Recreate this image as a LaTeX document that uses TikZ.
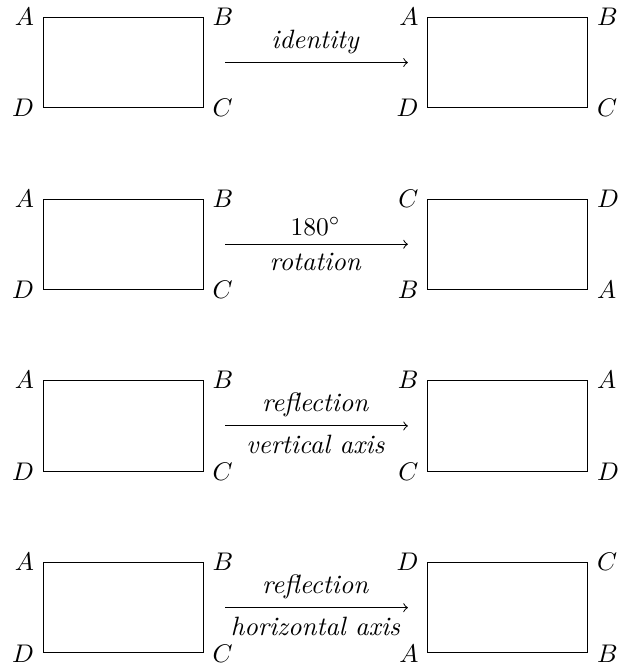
\documentclass[tikz,border=0pt]{standalone}
\usepackage{amsmath, amssymb}
\usetikzlibrary{positioning}
\begin{document}
\begin{tikzpicture}[>=to, every node/.style={font=\fontsize{10.4pt}{12.5pt}\selectfont},
  box/.style={draw, minimum width=2.2cm, minimum height=1.247cm, inner sep=0pt},
  tl/.style={label={[anchor=east]north west:$#1$}},
  tr/.style={label={[anchor=west]north east:$#1$}},
  br/.style={label={[anchor=west]south east:$#1$}},
  bl/.style={label={[anchor=east]south west:$#1$}},
  map/.style={->, shorten <=0.3cm, shorten >=0.27cm}]
  \useasboundingbox (0,0) rectangle (8.54,-9.14);
  % identity
  \node[box, tl=A, tr=B, br=C, bl=D] (l1) at (1.70,-0.862) {};
  \node[box, tl=A, tr=B, br=C, bl=D] (r1) at (7.00,-0.862) {};
  \draw[map] (l1) -- node[above] {\textit{identity}} (r1);
  % rotation
  \node[box, tl=A, tr=B, br=C, bl=D] (l2) at (1.70,-3.367) {};
  \node[box, tl=C, tr=D, br=A, bl=B] (r2) at (7.00,-3.367) {};
  \draw[map] (l2) -- node[above] {$180^\circ$} node[below] {\textit{rotation}} (r2);
  % vertical axis
  \node[box, tl=A, tr=B, br=C, bl=D] (l3) at (1.70,-5.872) {};
  \node[box, tl=B, tr=A, br=D, bl=C] (r3) at (7.00,-5.872) {};
  \draw[map] (l3) -- node[above] {\textit{reflection}} node[below] {\textit{vertical axis}} (r3);
  % horizontal axis
  \node[box, tl=A, tr=B, br=C, bl=D] (l4) at (1.70,-8.377) {};
  \node[box, tl=D, tr=C, br=B, bl=A] (r4) at (7.00,-8.377) {};
  \draw[map] (l4) -- node[above] {\textit{reflection}} node[below] {\textit{horizontal axis}} (r4);
\end{tikzpicture}
\end{document}
